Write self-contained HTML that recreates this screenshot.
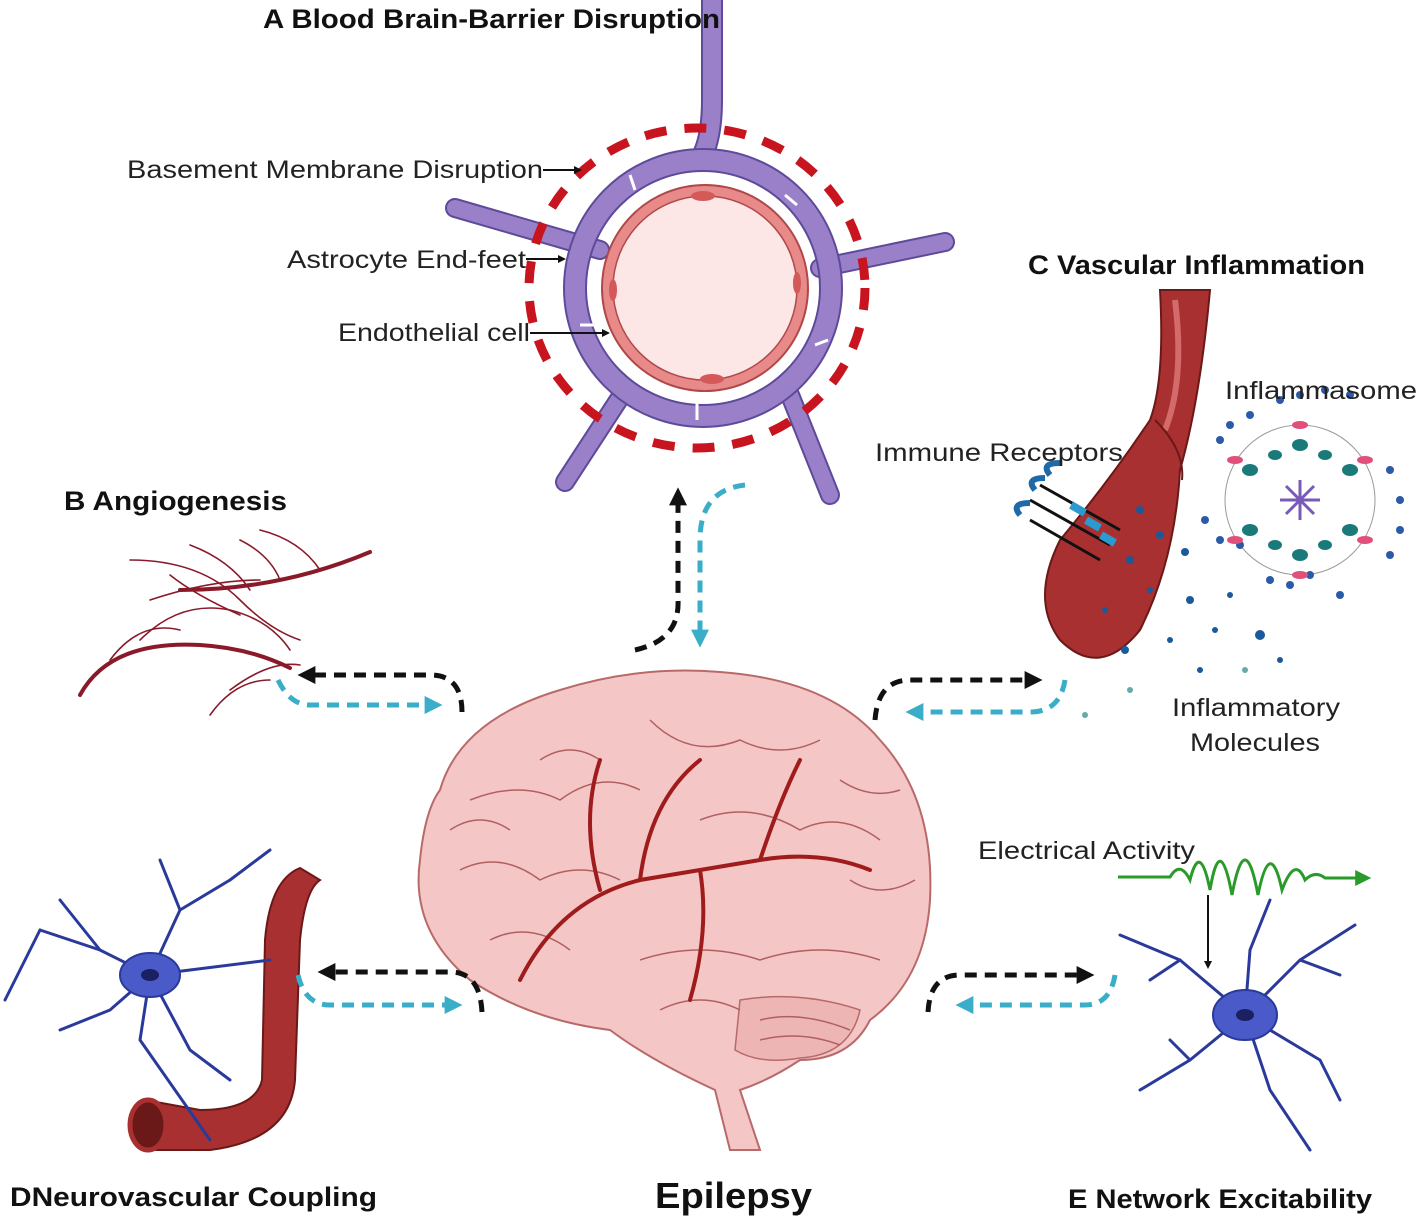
<!DOCTYPE html>
<html><head><meta charset="utf-8"><style>
html,body{margin:0;padding:0;background:#fff;}
svg{display:block;font-family:"Liberation Sans",Arial,sans-serif;}
</style></head><body>
<svg width="1418" height="1224" viewBox="0 0 1418 1224" xmlns="http://www.w3.org/2000/svg">
<defs>
<marker id="ak" markerWidth="8" markerHeight="8" refX="4" refY="4" orient="auto" markerUnits="userSpaceOnUse"><path d="M0,0 L8,4 L0,8z" fill="#111"/></marker>
<marker id="ab" viewBox="0 0 10 10" markerWidth="18" markerHeight="18" refX="3" refY="5" orient="auto" markerUnits="userSpaceOnUse"><path d="M0,0 L10,5 L0,10z" fill="#111"/></marker>
<marker id="ac" viewBox="0 0 10 10" markerWidth="18" markerHeight="18" refX="3" refY="5" orient="auto" markerUnits="userSpaceOnUse"><path d="M0,0 L10,5 L0,10z" fill="#3aaec8"/></marker>
<marker id="ag" viewBox="0 0 10 10" markerWidth="16" markerHeight="16" refX="3" refY="5" orient="auto" markerUnits="userSpaceOnUse"><path d="M0,0 L10,5 L0,10z" fill="#2a9a2a"/></marker>
</defs>

<!-- A: BBB -->
<g stroke-linecap="round" fill="none">
<path d="M712,0 L712,100 Q712,140 700,160" stroke="#5d4a9a" stroke-width="22"/>
<path d="M712,0 L712,100 Q712,140 700,160" stroke="#9a80c8" stroke-width="18"/>
<path d="M455,208 L600,250" stroke="#5d4a9a" stroke-width="20"/>
<path d="M455,208 L600,250" stroke="#9a80c8" stroke-width="16"/>
<path d="M945,242 L820,268" stroke="#5d4a9a" stroke-width="20"/>
<path d="M945,242 L820,268" stroke="#9a80c8" stroke-width="16"/>
<path d="M565,482 L625,390" stroke="#5d4a9a" stroke-width="20"/>
<path d="M565,482 L625,390" stroke="#9a80c8" stroke-width="16"/>
<path d="M830,495 L790,395" stroke="#5d4a9a" stroke-width="20"/>
<path d="M830,495 L790,395" stroke="#9a80c8" stroke-width="16"/>
</g>
<circle cx="703" cy="288" r="128" fill="none" stroke="#5d4a9a" stroke-width="24"/>
<circle cx="703" cy="288" r="128" fill="none" stroke="#9a80c8" stroke-width="20"/>
<g stroke="#fff" stroke-width="3">
<line x1="630" y1="175" x2="635" y2="190"/><line x1="785" y1="195" x2="797" y2="205"/>
<line x1="580" y1="325" x2="598" y2="325"/><line x1="815" y1="345" x2="828" y2="340"/>
<line x1="697" y1="400" x2="697" y2="420"/>
</g>
<ellipse cx="697" cy="288" rx="168" ry="160" fill="none" stroke="#c8141e" stroke-width="9" stroke-dasharray="22,18"/>
<circle cx="705" cy="288" r="103" fill="#e98a8a" stroke="#b04848" stroke-width="2"/>
<circle cx="705" cy="288" r="92" fill="#fce6e6" stroke="#b04848" stroke-width="1.5"/>
<g fill="#d45a5a"><ellipse cx="703" cy="196" rx="12" ry="5"/><ellipse cx="712" cy="379" rx="12" ry="5"/><ellipse cx="613" cy="290" rx="4" ry="11"/><ellipse cx="797" cy="283" rx="4" ry="11"/></g>

<text x="263" y="28" font-size="27" font-weight="bold" fill="#111" textLength="457" lengthAdjust="spacingAndGlyphs">A Blood Brain-Barrier Disruption</text>
<g font-size="25" fill="#222">
<text x="127" y="178" textLength="416" lengthAdjust="spacingAndGlyphs">Basement Membrane Disruption</text>
<text x="287" y="268" textLength="239" lengthAdjust="spacingAndGlyphs">Astrocyte End-feet</text>
<text x="338" y="341" textLength="192" lengthAdjust="spacingAndGlyphs">Endothelial cell</text>
</g>
<g stroke="#111" stroke-width="2">
<line x1="543" y1="170" x2="578" y2="170" marker-end="url(#ak)"/>
<line x1="526" y1="259" x2="562" y2="259" marker-end="url(#ak)"/>
<line x1="530" y1="333" x2="606" y2="333" marker-end="url(#ak)"/>
</g>

<!-- B Angiogenesis -->
<text x="64" y="510" font-size="27" font-weight="bold" fill="#111" textLength="223" lengthAdjust="spacingAndGlyphs">B Angiogenesis</text>
<g fill="none" stroke="#8a1a2a" stroke-linecap="round">
<path d="M80,695 Q110,640 200,645 Q250,648 290,668" stroke-width="4"/>
<path d="M180,590 Q280,590 370,552" stroke-width="4"/>
<g stroke-width="1.6">
<path d="M130,560 Q200,560 240,600 Q270,630 300,640"/>
<path d="M150,600 Q210,580 260,580"/>
<path d="M190,545 Q230,560 250,590"/>
<path d="M140,640 Q180,600 230,610 Q270,620 290,650"/>
<path d="M240,540 Q270,555 280,580"/>
<path d="M260,530 Q300,540 320,570"/>
<path d="M110,660 Q140,620 180,630"/>
<path d="M230,690 Q270,660 300,665"/>
<path d="M210,715 Q235,680 270,680"/>
<path d="M170,575 Q195,595 240,615"/>
</g></g>

<!-- C Vascular inflammation -->
<text x="1028" y="274" font-size="27" font-weight="bold" fill="#111" textLength="337" lengthAdjust="spacingAndGlyphs">C Vascular Inflammation</text>
<path d="M1160,290 Q1165,380 1150,420 Q1110,480 1060,540 Q1030,600 1060,640 Q1100,680 1140,630 Q1175,560 1180,470 Q1200,400 1210,290 Z" fill="#a83030" stroke="#6a1818" stroke-width="2"/>
<path d="M1175,300 Q1185,380 1165,430" stroke="#d46a6a" stroke-width="6" fill="none"/>
<path d="M1155,420 Q1185,450 1182,480" stroke="#6a1818" stroke-width="2" fill="none"/>
<g fill="#1a5a9a">
<circle cx="1140" cy="510" r="4"/><circle cx="1160" cy="535" r="4"/><circle cx="1130" cy="560" r="4"/><circle cx="1185" cy="552" r="4"/><circle cx="1150" cy="590" r="3"/><circle cx="1190" cy="600" r="4"/><circle cx="1125" cy="650" r="4"/><circle cx="1260" cy="635" r="5"/><circle cx="1230" cy="595" r="3"/><circle cx="1215" cy="630" r="3"/><circle cx="1170" cy="640" r="3"/><circle cx="1280" cy="660" r="3"/><circle cx="1200" cy="670" r="3"/><circle cx="1105" cy="610" r="3"/><circle cx="1085" cy="715" r="3" fill="#6aa"/><circle cx="1130" cy="690" r="3" fill="#6aa"/><circle cx="1245" cy="670" r="3" fill="#6aa"/></g>
<g stroke="#111" stroke-width="3">
<line x1="1030" y1="500" x2="1110" y2="545"/><line x1="1040" y1="485" x2="1120" y2="530"/><line x1="1030" y1="520" x2="1100" y2="560"/>
</g>
<g fill="none" stroke="#1e6aa8" stroke-width="6"><path d="M1020,515 q-10,-12 10,-12"/><path d="M1035,490 q-10,-12 10,-12"/><path d="M1050,475 q-10,-12 10,-12"/></g>
<g fill="#2a9ad0"><rect x="1070" y="505" width="16" height="8" transform="rotate(30 1078 509)"/><rect x="1085" y="520" width="16" height="8" transform="rotate(30 1093 524)"/><rect x="1100" y="535" width="16" height="8" transform="rotate(30 1108 539)"/></g>
<g transform="translate(1300,500)">
<circle r="75" fill="none" stroke="#999" stroke-width="1"/>
<g fill="#2a5aa8">
<circle cx="-80" cy="-60" r="4"/><circle cx="-70" cy="-75" r="4"/><circle cx="-50" cy="-85" r="4"/><circle cx="-20" cy="-100" r="4"/><circle cx="0" cy="-105" r="4"/><circle cx="25" cy="-110" r="4"/><circle cx="50" cy="-105" r="4"/>
<circle cx="90" cy="-30" r="4"/><circle cx="100" cy="0" r="4"/><circle cx="100" cy="30" r="4"/><circle cx="90" cy="55" r="4"/>
<circle cx="40" cy="95" r="4"/><circle cx="10" cy="75" r="4"/><circle cx="-10" cy="85" r="4"/><circle cx="-30" cy="80" r="4"/>
<circle cx="-80" cy="40" r="4"/><circle cx="-95" cy="20" r="4"/><circle cx="-60" cy="45" r="4"/>
</g>
<g fill="#1a7a7a"><ellipse cx="0" cy="-55" rx="8" ry="6"/><ellipse cx="50" cy="-30" rx="8" ry="6"/><ellipse cx="50" cy="30" rx="8" ry="6"/><ellipse cx="0" cy="55" rx="8" ry="6"/><ellipse cx="-50" cy="30" rx="8" ry="6"/><ellipse cx="-50" cy="-30" rx="8" ry="6"/><ellipse cx="25" cy="-45" rx="7" ry="5"/><ellipse cx="-25" cy="45" rx="7" ry="5"/><ellipse cx="-25" cy="-45" rx="7" ry="5"/><ellipse cx="25" cy="45" rx="7" ry="5"/></g>
<g fill="#e0507a"><ellipse cx="0" cy="-75" rx="8" ry="4"/><ellipse cx="65" cy="-40" rx="8" ry="4"/><ellipse cx="65" cy="40" rx="8" ry="4"/><ellipse cx="0" cy="75" rx="8" ry="4"/><ellipse cx="-65" cy="40" rx="8" ry="4"/><ellipse cx="-65" cy="-40" rx="8" ry="4"/></g>
<g stroke="#7a5ab8" stroke-width="3"><line x1="-20" y1="0" x2="20" y2="0"/><line x1="0" y1="-20" x2="0" y2="20"/><line x1="-14" y1="-14" x2="14" y2="14"/><line x1="-14" y1="14" x2="14" y2="-14"/></g>
</g>
<g font-size="25" fill="#222">
<text x="1225" y="399" textLength="192" lengthAdjust="spacingAndGlyphs">Inflammasome</text>
<text x="875" y="461" textLength="248" lengthAdjust="spacingAndGlyphs">Immune Receptors</text>
<text x="1172" y="716" textLength="168" lengthAdjust="spacingAndGlyphs">Inflammatory</text>
<text x="1190" y="751" textLength="130" lengthAdjust="spacingAndGlyphs">Molecules</text>
<text x="978" y="859" textLength="217" lengthAdjust="spacingAndGlyphs">Electrical Activity</text>
</g>

<!-- Brain -->
<path d="M440,790 Q460,720 560,690 Q640,665 720,672 Q830,680 880,740 Q935,800 930,900 Q925,980 870,1020 Q850,1060 800,1060 Q770,1080 740,1090 L760,1150 L730,1150 L715,1090 Q650,1060 610,1030 Q530,1020 470,980 Q410,930 420,860 Q425,810 440,790 Z" fill="#f4c6c6" stroke="#b86a6a" stroke-width="2"/>
<path d="M740,1000 Q800,990 860,1010 Q850,1055 800,1058 Q760,1065 735,1050 Z" fill="#eeb5b5" stroke="#b86a6a" stroke-width="1.5"/>
<g fill="none" stroke="#b06060" stroke-width="1.5">
<path d="M470,800 Q520,780 560,800 Q600,770 640,790"/><path d="M460,870 Q500,850 540,880 Q580,860 620,880"/><path d="M490,940 Q530,920 570,950"/><path d="M650,720 Q690,760 740,740 Q780,760 820,740"/><path d="M700,820 Q750,800 800,830 Q840,810 880,840"/><path d="M640,960 Q700,940 760,960 Q820,940 880,960"/><path d="M660,1010 Q700,990 740,1010"/><path d="M760,1020 Q800,1010 850,1030"/><path d="M760,1040 Q800,1030 840,1045"/>
<path d="M450,830 Q480,810 510,830"/><path d="M840,780 Q870,800 900,790"/><path d="M850,880 Q880,900 915,880"/><path d="M540,760 Q570,740 600,760"/>
</g>
<g fill="none" stroke="#a01c1c" stroke-width="4" stroke-linecap="round">
<path d="M520,980 Q560,900 640,880 Q700,870 760,860 Q820,850 870,870"/>
<path d="M640,880 Q650,800 700,760"/><path d="M760,860 Q780,800 800,760"/><path d="M600,890 Q580,820 600,760"/><path d="M700,870 Q710,930 690,1000"/>
</g>

<text x="655" y="1208" font-size="36" font-weight="bold" fill="#111" textLength="157" lengthAdjust="spacingAndGlyphs">Epilepsy</text>

<!-- D -->
<path d="M300,868 Q270,880 265,940 L262,1080 Q255,1110 200,1110 L145,1100 Q125,1130 155,1150 L210,1150 Q290,1140 295,1080 L300,940 Q305,890 320,880 Z" fill="#a83030" stroke="#6a1818" stroke-width="2"/>
<ellipse cx="148" cy="1125" rx="18" ry="25" fill="#6a1818" stroke="#a83030" stroke-width="5"/>
<g fill="none" stroke="#2a3a9a" stroke-width="3" stroke-linecap="round">
<path d="M150,975 L100,950 L40,930"/><path d="M100,950 L60,900"/><path d="M40,930 L5,1000"/><path d="M150,975 L110,1010 L60,1030"/><path d="M150,975 L180,910 L230,880"/><path d="M180,910 L160,860"/><path d="M230,880 L270,850"/><path d="M150,975 L270,960"/><path d="M150,975 L190,1050 L230,1080"/><path d="M150,975 L140,1040 L210,1140"/>
</g>
<ellipse cx="150" cy="975" rx="30" ry="22" fill="#4a5ac8" stroke="#2a3a9a" stroke-width="2"/>
<ellipse cx="150" cy="975" rx="9" ry="6" fill="#1a2060"/>
<text x="10" y="1206" font-size="27" font-weight="bold" fill="#111" textLength="367" lengthAdjust="spacingAndGlyphs">DNeurovascular Coupling</text>

<!-- E -->
<path d="M1118,877 L1170,877 Q1180,860 1190,880 Q1200,840 1210,890 Q1220,830 1232,895 Q1245,825 1258,895 Q1270,835 1282,890 Q1295,855 1305,880 Q1315,870 1325,878 L1360,878" fill="none" stroke="#2a9a2a" stroke-width="3" marker-end="url(#ag)"/>
<line x1="1208" y1="895" x2="1208" y2="965" stroke="#111" stroke-width="2" marker-end="url(#ak)"/>
<g fill="none" stroke="#2a3a9a" stroke-width="3" stroke-linecap="round">
<path d="M1245,1015 L1180,960 L1120,935"/><path d="M1180,960 L1150,980"/><path d="M1245,1015 L1250,950 L1270,900"/><path d="M1245,1015 L1300,960 L1355,925"/><path d="M1300,960 L1340,975"/><path d="M1245,1015 L1320,1060 L1340,1100"/><path d="M1245,1015 L1270,1090 L1310,1150"/><path d="M1245,1015 L1190,1060 L1140,1090"/><path d="M1190,1060 L1170,1040"/>
</g>
<ellipse cx="1245" cy="1015" rx="32" ry="25" fill="#4a5ac8" stroke="#2a3a9a" stroke-width="2"/>
<ellipse cx="1245" cy="1015" rx="9" ry="6" fill="#1a2060"/>
<text x="1068" y="1208" font-size="27" font-weight="bold" fill="#111" textLength="304" lengthAdjust="spacingAndGlyphs">E Network Excitability</text>

<!-- dashed arrows -->
<g fill="none" stroke-width="5" stroke-dasharray="12,8">
<path d="M635,650 Q680,640 678,600 L678,500" stroke="#111" marker-end="url(#ab)"/>
<path d="M745,485 Q700,490 700,540 L700,635" stroke="#3aaec8" marker-end="url(#ac)"/>
<path d="M462,712 Q462,675 430,675 L310,675" stroke="#111" marker-end="url(#ab)"/>
<path d="M278,680 Q290,705 310,705 L430,705" stroke="#3aaec8" marker-end="url(#ac)"/>
<path d="M875,720 Q878,680 910,680 L1030,680" stroke="#111" marker-end="url(#ab)"/>
<path d="M1065,680 Q1060,712 1030,712 L918,712" stroke="#3aaec8" marker-end="url(#ac)"/>
<path d="M482,1012 Q480,972 450,972 L330,972" stroke="#111" marker-end="url(#ab)"/>
<path d="M298,975 Q305,1005 330,1005 L450,1005" stroke="#3aaec8" marker-end="url(#ac)"/>
<path d="M928,1012 Q930,975 960,975 L1082,975" stroke="#111" marker-end="url(#ab)"/>
<path d="M1115,975 Q1110,1005 1085,1005 L968,1005" stroke="#3aaec8" marker-end="url(#ac)"/>
</g>
</svg>
</body></html>
